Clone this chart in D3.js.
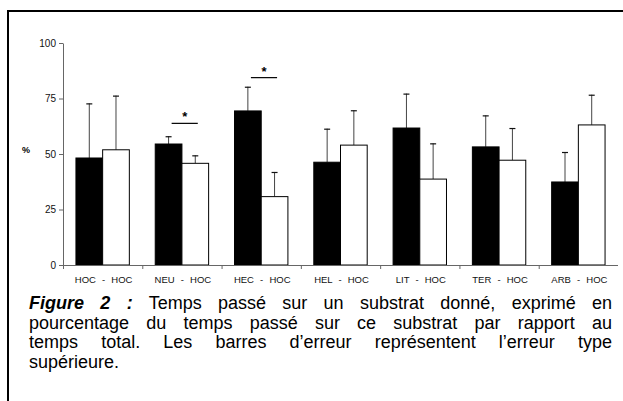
<!DOCTYPE html>
<html>
<head>
<meta charset="utf-8">
<script src="https://cdn.jsdelivr.net/npm/d3@7"></script>
<style>
  body { margin: 0; background: #fff; }
  #wrap { position: relative; width: 623px; height: 401px; overflow: hidden; }
  .caption { position: absolute; font-family: "Liberation Sans", Arial, sans-serif; color: #000; }
  .caption span.line { display: block; text-align: justify; text-align-last: justify; white-space: nowrap; }
  .caption span.last { text-align: left; text-align-last: left; }
</style>
</head>
<body>
<div id="wrap"></div>
<script>
// data
const categories = ["HOC - HOC", "NEU - HOC", "HEC - HOC", "HEL - HOC", "LIT - HOC", "TER - HOC", "ARB - HOC"];
const blackValues = [48.2, 54.5, 69.4, 46.3, 61.7, 53.2, 37.4];
const blackErrors = [72.8, 58.0, 80.3, 61.4, 77.2, 67.4, 50.9];
const whiteValues = [51.9, 45.8, 30.8, 54.0, 38.7, 47.2, 63.1];
const whiteErrors = [76.3, 49.4, 41.9, 69.7, 54.8, 61.7, 76.7];
const yTicks = [0, 25, 50, 75, 100];
// significance marks: group index and level of the bar
const sigGroups = [1, 2];
const sigLevels = [63.8, 84.4];
const captionLines = [
  ["Figure 2 :", " Temps passé sur un substrat donné, exprimé en"],
  ["", "pourcentage du temps passé sur ce substrat par rapport au"],
  ["", "temps total. Les barres d’erreur représentent l’erreur type"],
  ["", "supérieure."]
];

const svgWidth = 623;
const svgHeight = 401;
const margin = { top: 43, right: 5, bottom: 136, left: 63 };
const width = svgWidth - margin.left - margin.right;
const height = svgHeight - margin.top - margin.bottom;
const font = "Liberation Sans, Arial, sans-serif";

const svg = d3.select("#wrap")
  .append("svg")
  .attr("width", svgWidth)
  .attr("height", svgHeight)
  .style("position", "absolute")
  .style("left", 0)
  .style("top", 0);

// frame (left and top border of the figure box)
svg.append("path")
  .attr("d", `M8,${svgHeight}V11H${svgWidth}`)
  .attr("fill", "none")
  .attr("stroke", "#000")
  .attr("stroke-width", 2);

const chartGroup = svg.append("g")
  .attr("transform", `translate(${margin.left}, ${margin.top})`);

// scales
const x0 = d3.scaleBand()
  .domain(d3.range(categories.length))
  .range([0, width])
  .padding(0);

const x1 = d3.scaleBand()
  .domain(["black", "white"])
  .range([0, x0.bandwidth()])
  .paddingInner(0)
  .paddingOuter(0.485);

const yScale = d3.scaleLinear()
  .domain([0, 100])
  .range([height, 0]);

// y axis
const yAxis = chartGroup.append("g")
  .call(d3.axisLeft(yScale).tickValues(yTicks).tickSize(4).tickSizeOuter(0).tickPadding(3));
yAxis.select(".domain").attr("stroke", "#666");
yAxis.selectAll(".tick line").attr("stroke", "#666");
yAxis.selectAll("text")
  .attr("font-family", font)
  .attr("font-size", 10)
  .attr("fill", "#111");

chartGroup.append("text")
  .attr("x", -41)
  .attr("y", yScale(50) - 1)
  .attr("font-family", font)
  .attr("font-size", 9)
  .attr("font-weight", "bold")
  .attr("fill", "#000")
  .text("%");

// bars
const groups = chartGroup.selectAll(".grp")
  .data(categories)
  .enter()
  .append("g")
  .attr("class", "grp")
  .attr("transform", (d, i) => `translate(${x0(i)},0)`);

const series = [
  { key: "black", values: blackValues, errors: blackErrors, fill: "#000" },
  { key: "white", values: whiteValues, errors: whiteErrors, fill: "#fff" }
];

series.forEach(s => {
  const cx = x1(s.key) + x1.bandwidth() / 2;
  // error bars (upper only)
  groups.append("line")
    .attr("x1", cx)
    .attr("x2", cx)
    .attr("y1", (d, i) => yScale(s.values[i]))
    .attr("y2", (d, i) => yScale(s.errors[i]))
    .attr("stroke", "#444")
    .attr("stroke-width", 1);
  groups.append("line")
    .attr("x1", cx - 3)
    .attr("x2", cx + 3)
    .attr("y1", (d, i) => yScale(s.errors[i]) + 0.5)
    .attr("y2", (d, i) => yScale(s.errors[i]) + 0.5)
    .attr("stroke", "#111")
    .attr("stroke-width", 1.2);
  groups.append("rect")
    .attr("x", x1(s.key))
    .attr("y", (d, i) => yScale(s.values[i]))
    .attr("width", x1.bandwidth())
    .attr("height", (d, i) => height - yScale(s.values[i]))
    .attr("fill", s.fill)
    .attr("stroke", "#000")
    .attr("stroke-width", 1);
});

// x axis
chartGroup.append("line")
  .attr("x1", 0)
  .attr("x2", width)
  .attr("y1", height + 0.5)
  .attr("y2", height + 0.5)
  .attr("stroke", "#666");

chartGroup.selectAll(".xtick")
  .data(d3.range(categories.length))
  .enter()
  .append("line")
  .attr("class", "xtick")
  .attr("x1", i => x0(i) + 0.5)
  .attr("x2", i => x0(i) + 0.5)
  .attr("y1", height)
  .attr("y2", height + 4)
  .attr("stroke", "#666");

chartGroup.selectAll(".xlabel")
  .data(categories)
  .enter()
  .append("text")
  .attr("class", "xlabel")
  .attr("x", (d, i) => x0(i) + x0.bandwidth() / 2 + 1)
  .attr("y", height + 18)
  .attr("text-anchor", "middle")
  .attr("font-family", font)
  .attr("font-size", 9.5)
  .attr("word-spacing", 3.5)
  .attr("fill", "#111")
  .text(d => d);

// significance lines and stars
sigGroups.forEach((g, k) => {
  const bw = x0.bandwidth();
  chartGroup.append("line")
    .attr("x1", x0(g) + bw * 0.37)
    .attr("x2", x0(g) + bw * 0.70)
    .attr("y1", yScale(sigLevels[k]))
    .attr("y2", yScale(sigLevels[k]))
    .attr("stroke", "#000")
    .attr("stroke-width", 1.2);
  chartGroup.append("text")
    .attr("x", x0(g) + bw * 0.535)
    .attr("y", yScale(sigLevels[k]) - 2)
    .attr("text-anchor", "middle")
    .attr("font-family", font)
    .attr("font-size", 13)
    .attr("font-weight", "bold")
    .text("*");
});

// caption
const caption = d3.select("#wrap")
  .append("div")
  .attr("class", "caption")
  .style("left", "29px")
  .style("top", "294px")
  .style("width", "583px")
  .style("font-size", "18px")
  .style("line-height", "19.5px");

captionLines.forEach((ln, i) => {
  const span = caption.append("span")
    .attr("class", i === captionLines.length - 1 ? "line last" : "line");
  if (ln[0]) {
    span.append("b").append("i").text(ln[0]);
  }
  span.append("span").text(ln[1]);
});
</script>
</body>
</html>
